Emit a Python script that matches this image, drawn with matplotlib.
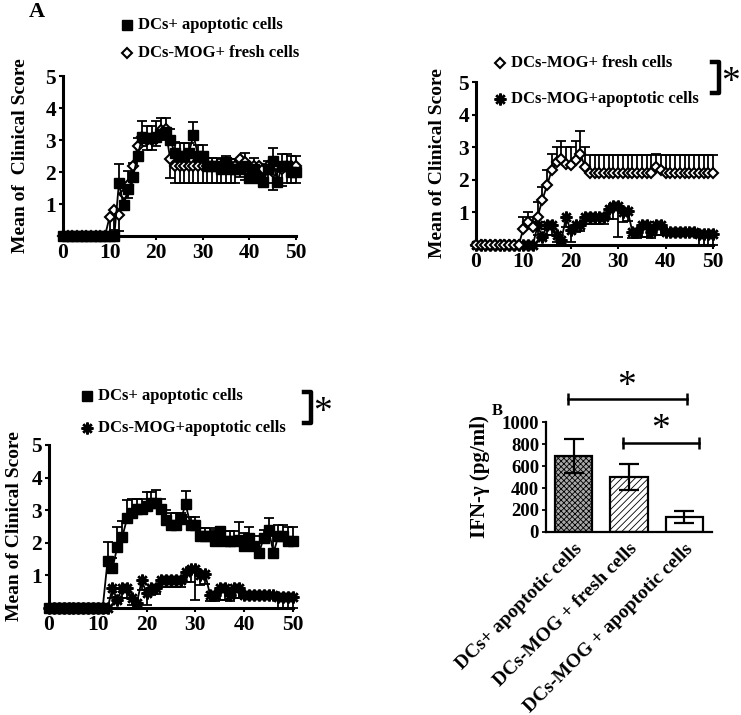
import matplotlib
matplotlib.use("Agg")
import matplotlib.pyplot as plt
from matplotlib.lines import Line2D
import numpy as np

plt.rcParams["font.family"] = ["Liberation Serif", "DejaVu Serif"]
plt.rcParams["font.weight"] = "bold"
plt.rcParams["hatch.linewidth"] = 0.6

# ---- data ----
days = list(range(0, 51))

# panel 1: DCs+ apoptotic cells (squares), upper SEM
p1_apo = [0]*12 + [1.65, 0.97, 1.47, 1.83, 2.5, 3.1, 3.05, 3.05, 3.1, 3.2,
                   3.25, 3.0, 2.6, 2.5, 2.5, 2.6, 3.15, 2.5, 2.5, 2.2,
                   2.2, 2.2, 2.1, 2.3, 2.1, 2.1, 2.1, 2.2, 1.8, 2.1,
                   1.8, 1.68, 2.1, 2.35, 1.68, 2.2, 2.2, 2.0, 2.0]
p1_apo_err = [0]*12 + [0.6, 0.35, 0.55, 0.45, 0.55, 0.5, 0.4, 0.4, 0.5, 0.5,
                       0.45, 0.35, 0.35, 0.4, 0.4, 0.3, 0.4, 0.35, 0.35, 0.25,
                       0.25, 0.25, 0.3, 0.2, 0.3, 0.3, 0.3, 0.4, 0.35, 0.35,
                       0.3, 0.3, 0.25, 0.4, 0.5, 0.35, 0.35, 0.5, 0.5]
# panel 1: DCs-MOG+ fresh cells (diamonds), lower SEM
p1_fresh = [0]*10 + [0.6, 0.8, 0.65, 1.3, 1.6, 2.2, 2.8, 3.1, 3.0, 3.0,
                     3.1, 3.3, 3.35, 2.4, 2.2, 2.2, 2.2, 2.2, 2.2, 2.2,
                     2.2, 2.2, 2.2, 2.2, 2.2, 2.2, 2.2, 2.2, 2.4, 2.3,
                     2.2, 2.2, 2.2, 2.1, 2.2, 2.0, 2.2, 2.1, 2.2, 2.2, 2.2]
p1_fresh_err = [0]*10 + [0.5, 0.6, 0.5, 0.4, 0.4, 0.3, 0.3, 0.3, 0.3, 0.3,
                         0.3, 0.3, 0.3, 0.6, 0.55, 0.55, 0.55, 0.55, 0.55, 0.55,
                         0.55, 0.55, 0.55, 0.55, 0.55, 0.55, 0.55, 0.55, 0.55, 0.55,
                         0.55, 0.55, 0.55, 0.55, 0.55, 0.55, 0.55, 0.55, 0.55, 0.55, 0.55]

# panel 2: DCs-MOG+ fresh cells (diamonds), upper SEM
p2_fresh = [0]*10 + [0.5, 0.7, 0.56, 0.87, 1.38, 1.84, 2.3, 2.55, 2.65, 2.5,
                     2.45, 2.6, 2.8, 2.4, 2.2, 2.2, 2.2, 2.2, 2.2, 2.2,
                     2.2, 2.2, 2.2, 2.2, 2.2, 2.2, 2.2, 2.2, 2.4, 2.3,
                     2.2, 2.2, 2.2, 2.2, 2.2, 2.2, 2.2, 2.2, 2.2, 2.2, 2.2]
p2_fresh_err = [0]*10 + [0.35, 0.3, 0.3, 0.45, 0.4, 0.45, 0.5, 0.45, 0.55, 0.5,
                         0.55, 0.6, 0.7, 0.6, 0.55, 0.55, 0.55, 0.55, 0.55, 0.55,
                         0.55, 0.55, 0.55, 0.55, 0.55, 0.55, 0.55, 0.55, 0.4, 0.45,
                         0.55, 0.55, 0.55, 0.55, 0.55, 0.55, 0.55, 0.55, 0.55, 0.55, 0.55]

# DCs-MOG+apoptotic cells (asterisks), lower SEM (panels 2 and 3)
mog_apo = [0]*13 + [0.6, 0.25, 0.6, 0.6, 0.3, 0.15, 0.85, 0.45, 0.6, 0.62,
                    0.85, 0.85, 0.85, 0.85, 0.85, 1.1, 1.2, 1.2, 1.0, 1.05,
                    0.4, 0.4, 0.6, 0.6, 0.4, 0.6, 0.6, 0.4, 0.4, 0.4,
                    0.4, 0.4, 0.4, 0.4, 0.33, 0.33, 0.33, 0.33]
mog_apo_err = [0]*13 + [0.3, 0.1, 0.3, 0.3, 0.2, 0.1, 0.3, 0.35, 0.2, 0.2,
                        0.2, 0.2, 0.2, 0.2, 0.2, 0.3, 0.4, 0.95, 0.3, 0.3,
                        0.2, 0.2, 0.35, 0.35, 0.2, 0.3, 0.3, 0.1, 0.1, 0.1,
                        0.1, 0.1, 0.1, 0.1, 0.33, 0.33, 0.33, 0.33]

# panel 3: DCs+ apoptotic cells (squares), upper SEM
p3_apo = [0]*12 + [1.45, 1.22, 1.87, 2.17, 2.75, 2.9, 3.03, 3.03, 3.12, 3.22,
                   3.22, 3.03, 2.7, 2.55, 2.55, 2.72, 3.18, 2.55, 2.55, 2.2,
                   2.2, 2.2, 2.05, 2.35, 2.05, 2.05, 2.05, 2.1, 1.9, 2.15,
                   1.9, 1.68, 2.15, 2.4, 1.7, 2.2, 2.2, 2.04, 2.04]
p3_apo_err = [0]*12 + [0.57, 0.3, 0.6, 0.5, 0.55, 0.45, 0.32, 0.32, 0.45, 0.35,
                       0.4, 0.3, 0.3, 0.35, 0.35, 0.2, 0.4, 0.25, 0.25, 0.25,
                       0.25, 0.25, 0.35, 0.15, 0.3, 0.3, 0.3, 0.55, 0.4, 0.35,
                       0.3, 0.3, 0.25, 0.35, 0.5, 0.35, 0.35, 0.45, 0.45]

# panel B: IFN-gamma
groups = ["DCs+ apoptotic cells", "DCs-MOG + fresh cells", "DCs-MOG + apoptotic cells"]
ifn = [690, 500, 136]
ifn_err = [155, 118, 58]

W, H = 741, 715
fig = plt.figure(figsize=(7.41, 7.15), dpi=100)


def fx(px):
    return px / W


def fy(py):
    return 1 - py / H


def axes_px(left, top, right, bottom):
    return fig.add_axes([fx(left), fy(bottom), fx(right) - fx(left), fy(top) - fy(bottom)])


sq = dict(marker="s", ms=7.5, mfc="black", mec="black")
dm = dict(marker="D", ms=5.5, mfc="white", mec="black", mew=1.5)
st = dict(marker=(8, 2, 0), ms=8.5, mfc="black", mec="black", mew=1.8)


def series(ax, y, err, up, style):
    z = [0]*len(err)
    yerr = [z, err] if up else [err, z]
    ax.errorbar(days, y, yerr=yerr, fmt="none", ecolor="black", elinewidth=1.3,
                capsize=3.5, capthick=1.3, clip_on=False, zorder=2)
    ax.plot(days, y, color="black", lw=1.3, clip_on=False, zorder=3, **style)


def score_axes(ax, ylabel, pad):
    ax.set_xlim(0, 50)
    ax.set_ylim(0, 5)
    ax.set_xticks([0, 10, 20, 30, 40, 50])
    ax.set_yticks([1, 2, 3, 4, 5])
    for s in ["top", "right"]:
        ax.spines[s].set_visible(False)
    for s in ["left", "bottom"]:
        ax.spines[s].set_linewidth(2.2)
    ax.tick_params(width=1.5, length=3, labelsize=15.5, pad=2)
    ax.set_ylabel(ylabel, fontsize=14, fontweight="bold", labelpad=pad)


def legend_row(x, y, style, label):
    fig.add_artist(Line2D([fx(x)], [fy(y)], transform=fig.transFigure, ls="none", **style))
    fig.text(fx(x + 11), fy(y), label, fontsize=12, fontweight="bold", va="center", ha="left")


def bracket(x, y0, y1):
    fig.add_artist(Line2D([fx(x - 7), fx(x), fx(x), fx(x - 7)], [fy(y0), fy(y0), fy(y1), fy(y1)],
                          transform=fig.transFigure, color="black", lw=3.2))
    fig.text(fx(x + 12), fy((y0 + y1) / 2 + 5), "*", fontsize=27, fontweight="normal",
             ha="center", va="center")


# panel 1
ax1 = axes_px(63, 76, 296, 236)
series(ax1, p1_fresh, p1_fresh_err, False, dm)
series(ax1, p1_apo, p1_apo_err, True, sq)
score_axes(ax1, "Mean of  Clinical Score", 12)
legend_row(127, 25, sq, "DCs+ apoptotic cells")
legend_row(127, 53, dm, "DCs-MOG+ fresh cells")
fig.text(fx(37), fy(12), "A", fontsize=16, fontweight="bold", ha="center", va="center")

# panel 2
ax2 = axes_px(476, 82, 713, 245)
series(ax2, mog_apo, mog_apo_err, False, st)
series(ax2, p2_fresh, p2_fresh_err, True, dm)
score_axes(ax2, "Mean of Clinical Score", 9)
legend_row(500, 63, dm, "DCs-MOG+ fresh cells")
legend_row(500, 99, st, "DCs-MOG+apoptotic cells")
bracket(719, 62, 93)

# panel 3
ax3 = axes_px(49, 445, 293, 608)
series(ax3, mog_apo, mog_apo_err, False, st)
series(ax3, p3_apo, p3_apo_err, True, sq)
score_axes(ax3, "Mean of Clinical Score", 6)
legend_row(87, 396, sq, "DCs+ apoptotic cells")
legend_row(87, 428, st, "DCs-MOG+apoptotic cells")
bracket(311, 392, 423)

# panel B
ax4 = axes_px(546, 422, 712, 532)
xpos = np.arange(len(groups))
bars = ax4.bar(xpos, ifn, width=0.68, color=["#a8a8a8", "white", "white"],
               edgecolor="black", linewidth=1.6, zorder=2)
bars[0].set_hatch("xxxxxx")
bars[1].set_hatch("/////")
ax4.errorbar(xpos, ifn, yerr=ifn_err, fmt="none", ecolor="black", elinewidth=1.6,
             capsize=7, capthick=1.6, zorder=3)
ax4.set_xlim(-0.5, 2.5)
ax4.set_ylim(0, 1000)
ax4.set_yticks([0, 200, 400, 600, 800, 1000])
ax4.set_xticks(xpos)
ax4.set_xticklabels(groups, rotation=45, ha="right", rotation_mode="anchor", fontsize=14)
for s in ["top", "right"]:
    ax4.spines[s].set_visible(False)
for s in ["left", "bottom"]:
    ax4.spines[s].set_linewidth(1.6)
ax4.tick_params(axis="y", width=1.3, length=3, labelsize=13.5, pad=2)
ax4.tick_params(axis="x", length=0, pad=6)
ax4.set_ylabel("IFN-γ (pg/ml)", fontsize=15, fontweight="bold", labelpad=8)

sig_lines = [(-0.11, 2.04, 1209, 0.96, 1320), (0.9, 2.26, 809, 1.57, 930)]
for x0, x1, yl, xs, ys in sig_lines:
    ax4.plot([x0, x1], [yl, yl], color="black", lw=1.8, clip_on=False)
    ax4.plot([x0, x1], [yl, yl], ls="none", marker="|", ms=9, mew=1.8, color="black", clip_on=False)
    ax4.text(xs, ys, "*", fontsize=27, fontweight="normal", ha="center", va="center", clip_on=False)
fig.text(fx(497), fy(411), "B", fontsize=12, fontweight="bold", ha="center", va="center")

fig.savefig("out.png", dpi=100)
